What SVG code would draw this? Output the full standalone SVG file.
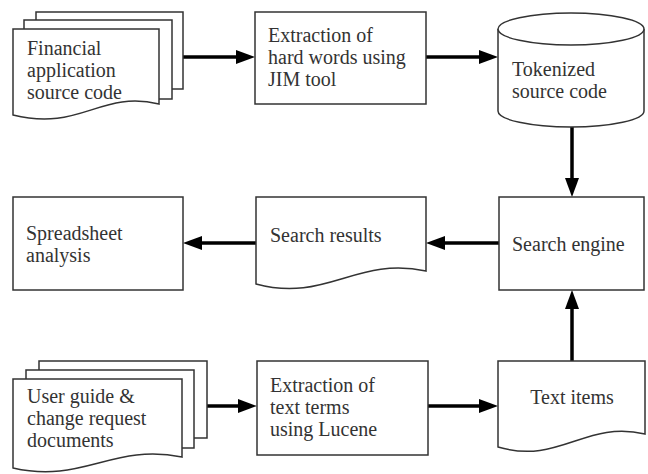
<svg xmlns="http://www.w3.org/2000/svg" width="648" height="474" viewBox="0 0 648 474">
<style>
.s{fill:#fff;stroke:#333;stroke-width:1.5}
.t{font-family:"Liberation Serif","Times New Roman",serif;font-size:20px;fill:#333}
.c{fill:none;stroke:#000;stroke-width:3.5}
</style>
<defs>
<marker id="ah" markerUnits="userSpaceOnUse" markerWidth="20" markerHeight="14" refX="4" refY="7" orient="auto">
<path d="M0,0 L19,7 L0,14 Z" fill="#000"/>
</marker>
</defs>
<rect width="648" height="474" fill="#fff"/>
<g id="connectors">
<path class="c" d="M183,57 H240" marker-end="url(#ah)"/>
<path class="c" d="M426,57 H483" marker-end="url(#ah)"/>
<path class="c" d="M572,127 V182" marker-end="url(#ah)"/>
<path class="c" d="M499,243 H441" marker-end="url(#ah)"/>
<path class="c" d="M256,243 H198" marker-end="url(#ah)"/>
<path class="c" d="M207,406 H242" marker-end="url(#ah)"/>
<path class="c" d="M428,406 H483" marker-end="url(#ah)"/>
<path class="c" d="M572,361 V305" marker-end="url(#ah)"/>
</g>
<g id="financial-source">
<rect class="s" x="36" y="12" width="147" height="77"/>
<rect class="s" x="24" y="20" width="148" height="79"/>
<path class="s" d="M13,29 H159 V104 C100,90 80,132 13,115 Z"/>
<text class="t" x="27" y="55">Financial</text>
<text class="t" x="27" y="77">application</text>
<text class="t" x="27" y="99">source code</text>
</g>
<g id="extraction-jim">
<rect class="s" x="255" y="12" width="171" height="92"/>
<text class="t" x="268" y="42">Extraction of</text>
<text class="t" x="268" y="64">hard words using</text>
<text class="t" x="268" y="86">JIM tool</text>
</g>
<g id="tokenized">
<path class="s" d="M498,29 A73,16 0 0 1 644,29 V111 A73,16 0 0 1 498,111 Z"/>
<path class="s" fill="none" d="M498,29 A73,16 0 0 0 644,29"/>
<text class="t" x="512" y="76">Tokenized</text>
<text class="t" x="512" y="98">source code</text>
</g>
<g id="search-engine">
<rect class="s" x="499" y="197" width="145" height="93"/>
<text class="t" x="512" y="251">Search engine</text>
</g>
<g id="search-results">
<path class="s" d="M256,197 H426 V271 C356,256 326,303 256,284 Z"/>
<text class="t" x="270" y="242">Search results</text>
</g>
<g id="spreadsheet">
<rect class="s" x="13" y="197" width="170" height="93"/>
<text class="t" x="26" y="240">Spreadsheet</text>
<text class="t" x="26" y="262">analysis</text>
</g>
<g id="user-guide">
<rect class="s" x="39" y="361" width="168" height="77"/>
<rect class="s" x="26" y="370" width="168" height="78"/>
<path class="s" d="M13,379 H182 V457 C112,443 83,484 13,468 Z"/>
<text class="t" x="27" y="403">User guide &amp;</text>
<text class="t" x="27" y="425">change request</text>
<text class="t" x="27" y="447">documents</text>
</g>
<g id="extraction-lucene">
<rect class="s" x="257" y="361" width="171" height="94"/>
<text class="t" x="270" y="392">Extraction of</text>
<text class="t" x="270" y="414">text terms</text>
<text class="t" x="270" y="436">using Lucene</text>
</g>
<g id="text-items">
<path class="s" d="M498,361 H645 V434 C585,420 560,465 498,447 Z"/>
<text class="t" x="572" y="404" text-anchor="middle">Text items</text>
</g>
</svg>
